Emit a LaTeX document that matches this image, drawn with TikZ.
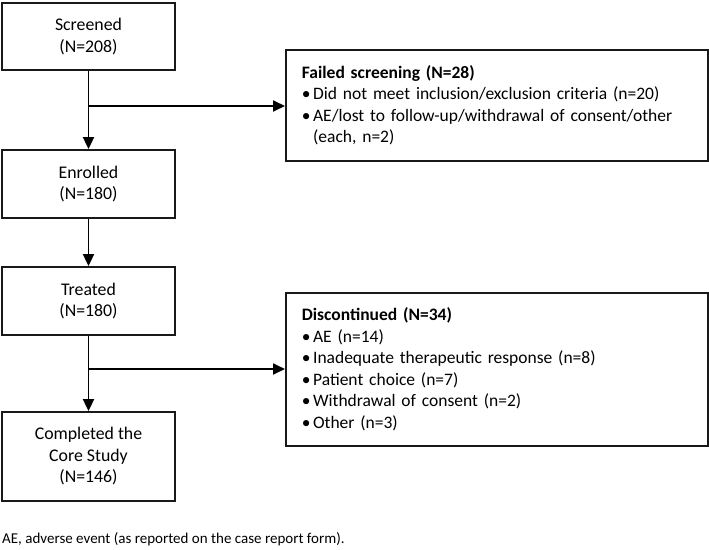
\documentclass[tikz,border=0pt]{standalone}
\usepackage{fontspec}
\setmainfont{Carlito}
\usetikzlibrary{arrows.meta}
\newcommand{\bul}{\textbullet\hspace{2.5pt}}
\begin{document}
\begin{tikzpicture}[x=1pt,y=-1pt,
  box/.style={draw=black!90, line width=1.8pt, rectangle, inner sep=0pt,
    font=\fontsize{17.8}{21.5}\selectfont, align=center, minimum width=173pt},
  listbox/.style={draw=black!90, line width=1.8pt, rectangle, inner ysep=0pt, inner xsep=16pt,
    font=\fontsize{17.5}{21.5}\selectfont, align=left, text width=390pt, anchor=north west},
  arr/.style={line width=1.8pt, -{Triangle[length=12pt,width=11pt]}}]
\useasboundingbox (0,0) rectangle (709,549);
\node[box, minimum height=67pt] (screen) at (88.5,36.5) {Screened\\(N=208)};
\node[box, minimum height=68pt] (enrol) at (88.5,184) {Enrolled\\(N=180)};
\node[box, minimum height=68pt] (treat) at (88.5,301) {Treated\\(N=180)};
\node[box, minimum height=89pt] (compl) at (88.5,456.5) {Completed the\\Core Study\\(N=146)};
\node[listbox, minimum height=111pt] (fail) at (285,49) {\textbf{Failed screening (N=28)}\\
\bul Did not meet inclusion/exclusion criteria (n=20)\\
\bul AE/lost to follow-up/withdrawal of consent/other\\
\phantom{\bul}(each, n=2)};
\node[listbox, minimum height=153pt] (disc) at (285,292) {\textbf{Discontinued (N=34)}\\
\bul AE (n=14)\\
\bul Inadequate therapeutic response (n=8)\\
\bul Patient choice (n=7)\\
\bul Withdrawal of consent (n=2)\\
\bul Other (n=3)};
\coordinate (b1) at (88,106);
\coordinate (b2) at (88,369);
\draw[arr] (screen.south) -- (enrol.north);
\draw[arr] (b1) -- (b1 -| fail.west);
\draw[arr] (enrol.south) -- (treat.north);
\draw[arr] (treat.south) -- (compl.north);
\draw[arr] (b2) -- (b2 -| disc.west);
\node[anchor=base west, inner sep=0pt, font=\fontsize{15}{18}\selectfont] (foot) at (2,543) {AE, adverse event (as reported on the case report form).};
\end{tikzpicture}
\end{document}
